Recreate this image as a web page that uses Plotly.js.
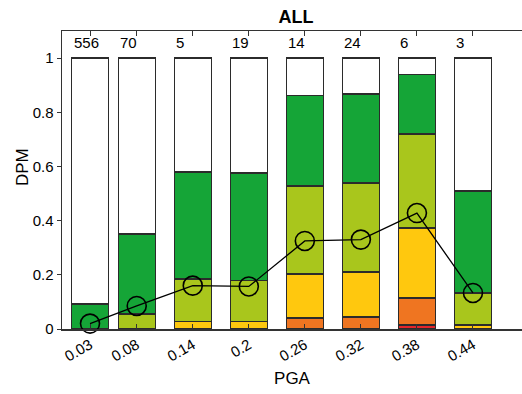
<!DOCTYPE html>
<html>
<head>
<meta charset="utf-8">
<script src="https://cdn.plot.ly/plotly-3.0.1.min.js"></script>
<style>
  html, body { margin: 0; padding: 0; background: #fff; }
  #chart { width: 522px; height: 394px; }
</style>
</head>
<body>
<div id="chart"></div>
<script>
// PGA bins
const pga = [0.03, 0.08, 0.14, 0.2, 0.26, 0.32, 0.38, 0.44];
const tickLabels = ['0.03', '0.08', '0.14', '0.2', '0.26', '0.32', '0.38', '0.44'];
// number of buildings per bin
const counts = [556, 70, 5, 19, 14, 24, 6, 3];

// cumulative fraction reaching each damage level (lowest bar boundary first)
const reachDS5 = [0.000, 0.000, 0.000, 0.000, 0.000, 0.000, 0.015, 0.000];
const reachDS4 = [0.000, 0.000, 0.000, 0.000, 0.040, 0.044, 0.114, 0.000];
const reachDS3 = [0.000, 0.000, 0.027, 0.028, 0.203, 0.210, 0.373, 0.015];
const reachDS2 = [0.000, 0.055, 0.185, 0.180, 0.528, 0.539, 0.720, 0.133];
const reachDS1 = [0.092, 0.350, 0.579, 0.576, 0.863, 0.867, 0.940, 0.510];

// mean damage ratio
const dpm = [0.020, 0.085, 0.160, 0.157, 0.325, 0.330, 0.428, 0.133];

const levels = [reachDS5, reachDS4, reachDS3, reachDS2, reachDS1];
const colors = ['#e3262b', '#ef7521', '#ffc80e', '#a9c61c', '#15a537', '#ffffff'];

const edge = { color: '#2b2b2b', width: 1.4 };
const barWidth = 0.0396;
const fontFamily = 'Liberation Sans, Arial, sans-serif';

const traces = [];
let prev = pga.map(() => 0);
const tops = levels.concat([pga.map(() => 1)]);
tops.forEach((lvl, k) => {
  const seg = lvl.map((v, i) => Math.max(v - prev[i], 0));
  traces.push({
    type: 'bar',
    x: pga,
    y: seg,
    width: barWidth,
    marker: { color: colors[k], line: edge },
    hoverinfo: 'skip',
    showlegend: false
  });
  prev = lvl;
});

traces.push({
  type: 'scatter',
  mode: 'lines+markers',
  x: pga,
  y: dpm,
  line: { color: '#000', width: 1.3 },
  marker: { symbol: 'circle-open', size: 19, color: '#000', line: { width: 1.6, color: '#000' } },
  cliponaxis: false,
  showlegend: false
});

const annotations = pga.map((x, i) => ({
  x: x - barWidth / 2,
  y: 1.056,
  xref: 'x', yref: 'y',
  text: String(counts[i]),
  showarrow: false,
  xanchor: 'left',
  yanchor: 'middle',
  font: { family: fontFamily, size: 15, color: '#000' }
}));

// y-axis label
annotations.push({
  x: 22, xref: 'paper', xanchor: 'center',
  y: 0.5, yref: 'paper', yanchor: 'middle',
  text: 'DPM',
  textangle: -90,
  showarrow: false,
  font: { family: fontFamily, size: 17, color: '#000' }
});
annotations[annotations.length - 1].x = -40 / 460;
annotations[annotations.length - 1].y = (329 - 167) / 298;

const layout = {
  width: 522,
  height: 394,
  margin: { l: 62, r: 0, t: 31, b: 65 },
  paper_bgcolor: '#fff',
  plot_bgcolor: '#fff',
  barmode: 'stack',
  bargap: 0,
  font: { family: fontFamily, size: 15, color: '#000' },
  title: {
    text: '<b>ALL</b>',
    x: 0.567, xanchor: 'center',
    y: 0.958, yanchor: 'middle',
    font: { size: 18, color: '#000' }
  },
  xaxis: {
    range: [0, 0.4925],
    tickvals: pga,
    ticktext: tickLabels,
    tickangle: -30,
    ticks: 'inside',
    ticklen: 5,
    tickcolor: '#333',
    showline: true,
    linecolor: '#333',
    linewidth: 1.5,
    mirror: 'ticks',
    showgrid: false,
    zeroline: false,
    tickfont: { size: 15 },
    title: { text: 'PGA', font: { size: 17 }, standoff: 8 }
  },
  yaxis: {
    range: [0, 1.1],
    tickvals: [0, 0.2, 0.4, 0.6, 0.8, 1],
    ticktext: ['0', '0.2', '0.4', '0.6', '0.8', '1'],
    ticks: 'outside',
    ticklen: 4,
    tickcolor: '#333',
    showline: true,
    linecolor: '#333',
    linewidth: 1.5,
    showgrid: false,
    zeroline: false,
    tickfont: { size: 15 }
  },
  annotations: annotations
};

Plotly.newPlot('chart', traces, layout, { displayModeBar: false, staticPlot: true });
</script>
</body>
</html>
